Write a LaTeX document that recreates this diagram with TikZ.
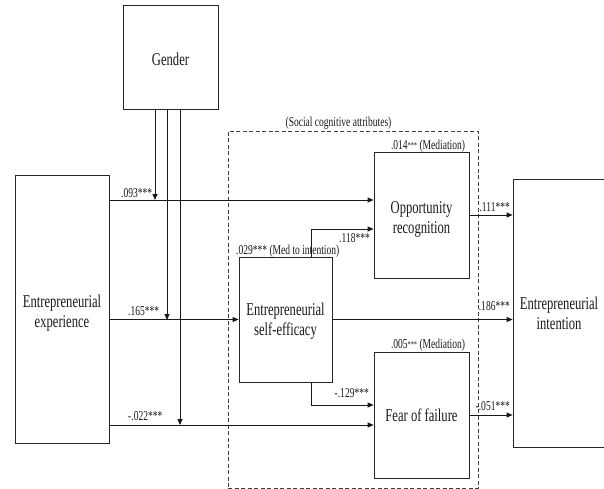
\documentclass[tikz,border=0pt]{standalone}
\usepackage{fontspec}
\setmainfont[FakeStretch=0.7]{Liberation Serif}
\usetikzlibrary{arrows.meta,calc}
\newcommand{\smst}{\raisebox{1pt}{\fontsize{9}{9}\selectfont ***}}
\newcommand{\bt}[2][7.5]{\raisebox{-#1pt}[0pt][0pt]{\begin{tabular}{@{}c@{}}#2\end{tabular}}}
\begin{document}
\begin{tikzpicture}[x=1pt,y=-1pt,
  box/.style={draw=black!85, line width=0.8pt, inner sep=0pt,
    font=\fontsize{18}{20}\selectfont, text=black!90},
  arr/.style={draw=black!90, line width=0.8pt, -{Triangle[length=6pt,width=5pt]}},
  lab/.style={font=\fontsize{13.6}{15}\selectfont, text=black!90, inner sep=0pt},
  frame/.style={draw=black!75, line width=0.7pt, dash pattern=on 4pt off 2.5pt, inner sep=0pt}
  ]
\useasboundingbox (0,0) rectangle (604,489);
% boxes
\node[box, minimum width=95pt, minimum height=104pt] (gender) at (170.5,57) {\bt[8.5]{Gender}};
\node[box, minimum width=94pt, minimum height=268pt] (exp) at (62,309) {\bt[8.5]{Entrepreneurial\\experience}};
\node[frame, minimum width=250pt, minimum height=357pt] (sca) at (353,309.5) {};
\node[box, minimum width=95pt, minimum height=126pt] (opp) at (421.5,215) {\bt[8.5]{Opportunity\\recognition}};
\node[box, minimum width=93pt, minimum height=125pt] (ese) at (285.5,319.5) {\bt[6]{Entrepreneurial\\self-efficacy}};
\node[box, minimum width=95pt, minimum height=126pt] (fear) at (421.5,415) {\bt[7.2]{Fear of failure}};
\node[box, minimum width=92pt, minimum height=268pt] (ei) at (559,313) {\bt[6.5]{Entrepreneurial\\intention}};
% helper coordinates
\coordinate (y1) at (0,200);
\coordinate (y3) at (0,425);
\coordinate (g1) at (155,200);
\coordinate (g2) at (167,320);
\coordinate (g3) at (180,425);
\coordinate (c1) at (311,229);
\coordinate (c2) at (311,405);
% experience paths
\draw[arr] (exp.east |- y1) -- (opp.west |- y1);
\draw[arr] (exp.east |- ese.west) -- (ese.west);
\draw[arr] (exp.east |- y3) -- (fear.west |- y3);
% gender moderation
\draw[arr] (gender.south -| g1) -- (g1);
\draw[arr] (gender.south -| g2) -- (g2);
\draw[arr] (gender.south -| g3) -- (g3);
% self-efficacy paths
\draw[arr] (ese.north -| c1) |- (opp.west |- c1);
\draw[arr] (ese.south -| c2) |- (fear.west |- c2);
\draw[arr] (ese.east) -- (ei.west |- ese.east);
\draw[arr] (opp.east) -- (ei.west |- opp.east);
\draw[arr] (fear.east) -- (ei.west |- fear.east);
% labels
\node[lab, anchor=base west] (l1) at (121,197) {.093***};
\node[lab, anchor=base west] (l2) at (128,315) {.165***};
\node[lab, anchor=base west] (l3) at (128,420) {-.022***};
\node[lab, anchor=base] (lsca) at (338.5,127) {(Social cognitive attributes)};
\node[lab, anchor=base] (lopp) at (428,149.5) {.014\smst{} (Mediation)};
\node[lab, anchor=base] (lfear) at (428,348) {.005\smst{} (Mediation)};
\node[lab, anchor=base west] (lese) at (236,254) {.029*** (Med to intention)};
\node[lab, anchor=base east] (l118) at (370,242) {.118***};
\node[lab, anchor=base east] (l129) at (369,397) {-.129***};
\node[lab, anchor=base east] (l111) at (510,211) {.111***};
\node[lab, anchor=base east] (l186) at (510,310) {.186***};
\node[lab, anchor=base east] (l051) at (510,410) {-.051***};
\end{tikzpicture}
\end{document}
